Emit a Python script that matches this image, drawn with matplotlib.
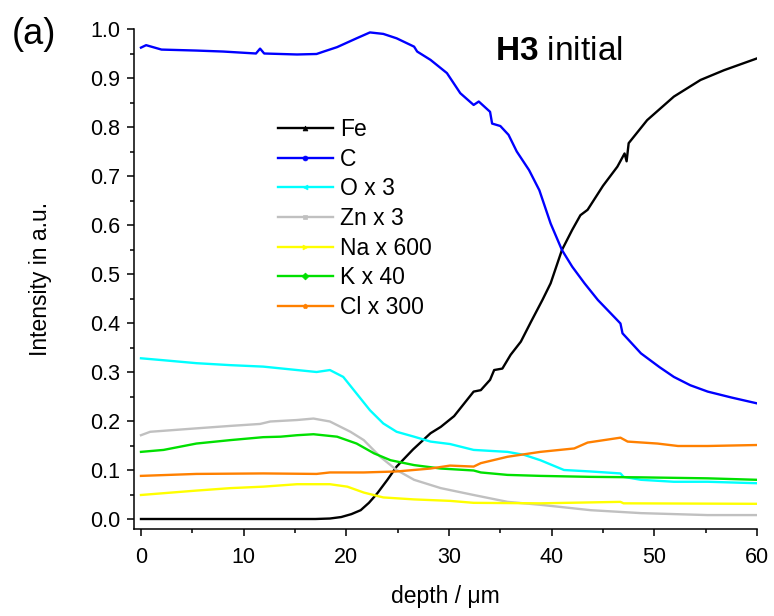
import matplotlib
matplotlib.use("Agg")
import matplotlib.pyplot as plt
from matplotlib.lines import Line2D
from matplotlib.ticker import MultipleLocator

plt.rcParams['font.family'] = ['Liberation Sans', 'DejaVu Sans']
plt.rcParams['mathtext.fontset'] = 'custom'
plt.rcParams['mathtext.rm'] = 'Liberation Sans'
plt.rcParams['mathtext.bf'] = 'Liberation Sans:bold'

# ---- data ----
fe_depth = [0, 10, 17, 18.4, 19.5, 20.5, 21.4, 22.2, 23, 24, 24.9, 26.5, 28.2, 29.2, 30.5,
            32.4, 33.1, 34.0, 34.4, 35.2, 36.0, 37.0, 38.0, 39.1, 39.9, 41.0, 42.0, 42.8,
            43.5, 45, 46.4, 47.1, 47.3, 47.5, 49.3, 51.9, 54.5, 56.8, 60]
fe_int = [0, 0, 0.0, 0.001, 0.004, 0.01, 0.018, 0.033, 0.052, 0.08, 0.107, 0.142, 0.175,
          0.188, 0.21, 0.26, 0.263, 0.284, 0.304, 0.307, 0.335, 0.362, 0.403, 0.447, 0.481,
          0.549, 0.59, 0.62, 0.631, 0.68, 0.719, 0.746, 0.73, 0.767, 0.814, 0.862, 0.896,
          0.916, 0.94]

c_depth = [0, 0.5, 2, 5.4, 8, 11.2, 11.6, 12, 15.2, 17.1, 17.8, 19.1, 21, 22.3, 23.6, 24.9,
           26.6, 26.9, 28.2, 29.8, 31.1, 32.4, 32.9, 34.0, 34.2, 35.0, 35.8, 36.6, 37.8,
           38.8, 39.9, 41, 42, 43.2, 44.5, 46.2, 46.7, 46.9, 48.7, 50.5, 51.9, 53.5, 55.2,
           57.5, 60]
c_int = [0.962, 0.967, 0.958, 0.956, 0.954, 0.950, 0.960, 0.950, 0.948, 0.949, 0.954, 0.963,
         0.981, 0.993, 0.990, 0.981, 0.964, 0.954, 0.937, 0.910, 0.869, 0.845, 0.852, 0.831,
         0.807, 0.802, 0.784, 0.750, 0.712, 0.671, 0.603, 0.549, 0.515, 0.481, 0.447, 0.410,
         0.399, 0.379, 0.338, 0.310, 0.290, 0.273, 0.260, 0.248, 0.236]

o_depth = [0, 2.2, 5.4, 8.7, 11.9, 15.2, 17.1, 18.4, 19.7, 21.0, 22.3, 23.6, 24.9, 26.6,
           28.2, 30.1, 32.4, 35.7, 37.3, 38.9, 41.2, 43.8, 46.7, 47.0, 48.7, 51.9, 55.2, 60]
o_int = [0.328, 0.324, 0.318, 0.314, 0.311, 0.304, 0.300, 0.304, 0.29, 0.256, 0.222, 0.195,
         0.178, 0.168, 0.158, 0.153, 0.141, 0.137, 0.131, 0.12, 0.10, 0.097, 0.093, 0.086,
         0.08, 0.076, 0.076, 0.073]

zn_depth = [0, 0.9, 5.4, 8.7, 11.6, 12.6, 15.2, 16.8, 18.4, 20.4, 21.7, 23.3, 24.9, 26.6,
            29.2, 32.4, 35.7, 38.9, 43.8, 48.7, 55.2, 60]
zn_int = [0.171, 0.178, 0.185, 0.19, 0.194, 0.199, 0.202, 0.205, 0.199, 0.178, 0.161, 0.127,
          0.1, 0.08, 0.063, 0.049, 0.035, 0.029, 0.018, 0.012, 0.008, 0.008]

na_depth = [0, 5.4, 8.7, 11.9, 15.2, 18.4, 20.1, 21.7, 23.6, 26.6, 30.1, 32.4, 38.9, 46.7,
            47.0, 60]
na_int = [0.049, 0.058, 0.063, 0.066, 0.071, 0.071, 0.066, 0.054, 0.044, 0.04, 0.037, 0.033,
          0.032, 0.035, 0.032, 0.031]

k_depth = [0, 2.2, 5.4, 8.7, 11.9, 13.6, 15.2, 16.8, 19.1, 21.0, 22.7, 24.3, 26.6, 29.2,
           32.4, 33.1, 35.7, 38.9, 43.8, 48.7, 55.2, 60]
k_int = [0.137, 0.141, 0.154, 0.161, 0.167, 0.168, 0.171, 0.173, 0.168, 0.154, 0.134, 0.12,
         0.11, 0.103, 0.099, 0.095, 0.09, 0.088, 0.086, 0.085, 0.083, 0.08]

cl_depth = [0, 5.4, 11.9, 17.1, 18.4, 21.7, 24.9, 28.2, 30.1, 32.4, 33.1, 35.7, 38.9, 42.2,
            43.5, 46.7, 47.4, 50.3, 52.3, 55.2, 60]
cl_int = [0.088, 0.092, 0.093, 0.092, 0.095, 0.095, 0.097, 0.103, 0.109, 0.107, 0.114, 0.127,
          0.137, 0.144, 0.156, 0.166, 0.158, 0.154, 0.149, 0.149, 0.151]

labels = ["Fe", "C", "O x 3", "Zn x 3", "Na x 600", "K x 40", "Cl x 300"]
x_ticks = [0, 10, 20, 30, 40, 50, 60]
y_ticks = [0.0, 0.1, 0.2, 0.3, 0.4, 0.5, 0.6, 0.7, 0.8, 0.9, 1.0]

series = [(fe_depth, fe_int), (c_depth, c_int), (o_depth, o_int), (zn_depth, zn_int),
          (na_depth, na_int), (k_depth, k_int), (cl_depth, cl_int)]
colors = ["#000000", "#0000FF", "#00FFFF", "#C0C0C0", "#FFFF00", "#00E000", "#FF8000"]
markers = ["^", "o", "<", "s", ">", "D", "p"]

fig = plt.figure(figsize=(7.74, 6.16), dpi=100)
ax = fig.add_axes([134 / 774, 1 - 529 / 616, 623 / 774, 500 / 616])

for i, ((xd, yd), col) in enumerate(zip(series, colors)):
    ax.plot(xd, yd, color=col, lw=1.7, zorder=2 + i, solid_joinstyle='round')

ax.set_xlim(-0.68, 60)
ax.set_ylim(-0.0204, 1.0)
ax.set_xticks(x_ticks)
ax.set_yticks(y_ticks)
ax.set_yticklabels([f"{v:.1f}" for v in y_ticks])
ax.xaxis.set_minor_locator(MultipleLocator(5))
ax.yaxis.set_minor_locator(MultipleLocator(0.05))
ax.tick_params(which='major', direction='out', length=5, width=1.1, labelsize=15.5, pad=5)
ax.tick_params(which='minor', direction='out', length=3, width=1.1)
ax.tick_params(axis='x', which='major', pad=8)
for s in ['top', 'right']:
    ax.spines[s].set_visible(False)
for s in ['left', 'bottom']:
    ax.spines[s].set_linewidth(1.1)

ax.set_xlabel("depth / μm", fontsize=16.5, labelpad=12)
ax.set_ylabel("Intensity in a.u.", fontsize=16.5, labelpad=27)

handles = [Line2D([], [], color=c, lw=1.7, marker=m, markersize=3.5, markeredgewidth=0.5)
           for c, m in zip(colors, markers)]
ax.legend(handles, labels, loc='upper left', bbox_to_anchor=(0.231, 0.822), frameon=False,
          fontsize=16.5, handlelength=2.4, handletextpad=0.3, labelspacing=0.29, borderpad=0,
          borderaxespad=0)

fig.text(12 / 774, 1 - 35 / 616, "(a)", fontsize=26, va='center', ha='left')
ax.text(0.58, 0.955, r"$\mathbf{H3}$ initial", transform=ax.transAxes, fontsize=24,
        va='center', ha='left')

fig.savefig("out.png", dpi=100)
